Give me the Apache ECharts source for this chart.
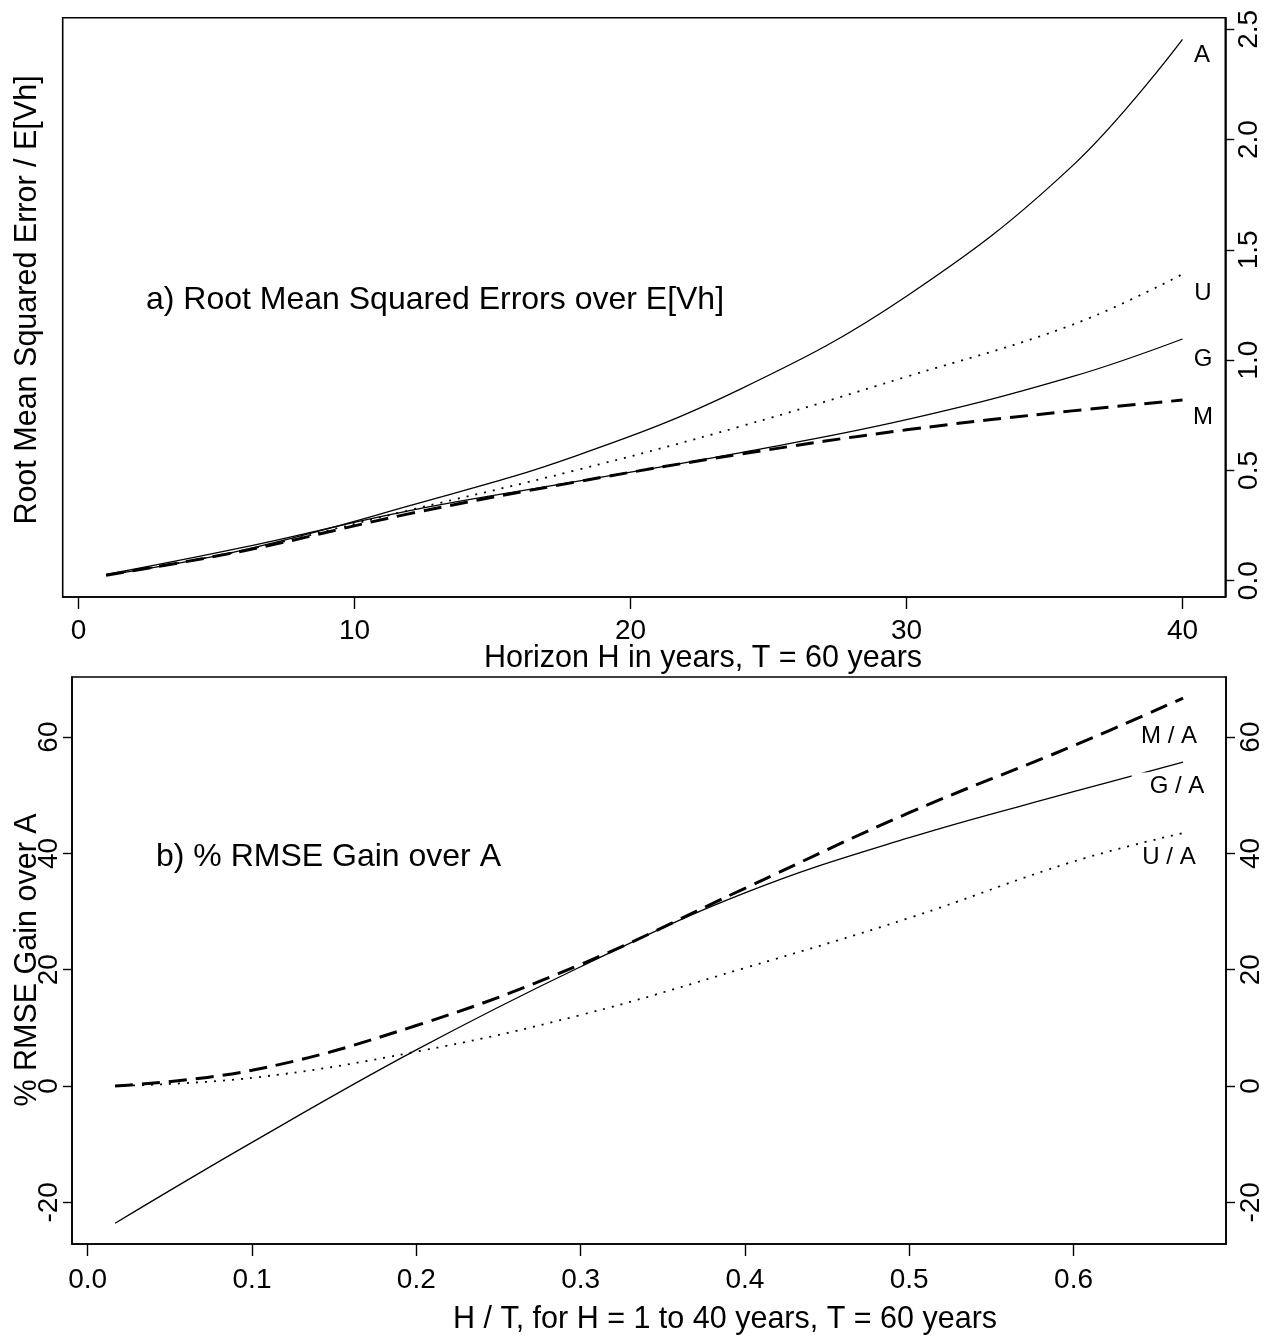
<!DOCTYPE html>
<html lang="en">
<head>
  <meta charset="UTF-8">
  <title>RMSE over E[Vh]</title>
  <script src="https://cdn.jsdelivr.net/npm/echarts@6/dist/echarts.min.js"></script>
</head>
<body style="margin:0;background:#fff">
<div id="main" style="width:1275px;height:1342px;"></div>
<script type="text/javascript">
    var T = 60;
    var horizon = [1, 6, 12, 18, 24, 30, 36, 40];

    // panel a) RMSE / E[Vh]
    var rmseA = [0.025, 0.14, 0.34, 0.565, 0.87, 1.29, 1.88, 2.455];
    var rmseU = [0.025, 0.138, 0.32, 0.50, 0.70, 0.925, 1.16, 1.39];
    var rmseG = [0.028, 0.152, 0.318, 0.449, 0.581, 0.73, 0.925, 1.096];
    var rmseM = [0.025, 0.136, 0.304, 0.447, 0.574, 0.684, 0.77, 0.819];

    // panel b) % RMSE gain over A
    var gainMA = [0, 2.7, 10.4, 20.9, 34.0, 47.0, 58.5, 66.7];
    var gainGA = [-23.6, -9.7, 6.2, 20.5, 33.2, 42.7, 50.6, 55.7];
    var gainUA = [0, 1.4, 5.9, 12.2, 20.3, 28.9, 38.6, 43.5];

    // tick labels
    var ticksTopX = [0, 10, 20, 30, 40];
    var ticksTopY = [0, 0.5, 1, 1.5, 2, 2.5];
    var ticksBotX = [0, 0.1, 0.2, 0.3, 0.4, 0.5, 0.6];
    var ticksBotY = [-20, 0, 20, 40, 60];

    var FONT = "'Liberation Sans', Arial, sans-serif";
    var myChart = echarts.init(document.getElementById('main'));

    function pairs(xs, ys) {
        return xs.map(function (x, i) { return [x, ys[i]]; });
    }
    var ratio = horizon.map(function (h) { return h / T; });

    function line(name, xi, yi, data, kind) {
        var ls = { color: '#000', width: 1.3, type: 'solid' };
        if (kind === 'dash') { ls.width = 3; ls.type = [18, 9]; }
        if (kind === 'dot') { ls.width = 1.8; ls.type = [2, 7]; }
        return {
            name: name, type: 'line', xAxisIndex: xi, yAxisIndex: yi,
            data: data, smooth: 0.4,
            showSymbol: false, symbol: 'none', silent: true,
            lineStyle: ls, z: 3
        };
    }

    function xAxisOf(grid, min, max, ticks, dec, tickLen, margin) {
        return {
            type: 'value', gridIndex: grid, min: min, max: max,
            splitLine: { show: false },
            axisLine: { show: true, onZero: false, lineStyle: { color: '#000', width: 1.6 } },
            axisTick: { show: true, length: tickLen, customValues: ticks, lineStyle: { color: '#000', width: 1.4 } },
            axisLabel: {
                customValues: ticks, margin: margin, color: '#000', fontSize: 28, fontFamily: FONT,
                formatter: function (v) { return dec ? v.toFixed(1) : String(v); }
            }
        };
    }

    function yAxisOf(grid, pos, min, max, ticks, dec, margin) {
        return {
            type: 'value', gridIndex: grid, position: pos, min: min, max: max,
            splitLine: { show: false },
            axisLine: { show: true, onZero: false, lineStyle: { color: '#000', width: 1.6 } },
            axisTick: { show: true, length: 9, customValues: ticks, lineStyle: { color: '#000', width: 1.4 } },
            axisLabel: {
                customValues: ticks, margin: margin, rotate: 90, color: '#000', fontSize: 28, fontFamily: FONT,
                align: 'center', verticalAlign: pos === 'right' ? 'top' : 'bottom',
                formatter: function (v) { return dec ? v.toFixed(1) : String(v); }
            }
        };
    }

    function txt(x, y, s, size, opts) {
        var st = { text: s, fill: '#000', font: size + 'px ' + FONT, align: 'center', verticalAlign: 'middle' };
        for (var k in (opts || {})) { st[k] = opts[k]; }
        return { type: 'text', x: x, y: y, z: 100, silent: true, style: st };
    }

    var option = {
        backgroundColor: '#fff',
        animation: false,
        grid: [
            { left: 62.7, right: 49.7, top: 17.7, height: 579.3, show: true, borderColor: '#000', borderWidth: 1.6, backgroundColor: 'transparent' },
            { left: 72, right: 49, top: 677, height: 567, show: true, borderColor: '#000', borderWidth: 1.6, backgroundColor: 'transparent' }
        ],
        xAxis: [
            xAxisOf(0, -0.572, 41.55, ticksTopX, false, 12, 20),
            xAxisOf(1, -0.00956, 0.6928, ticksBotX, true, 12, 22)
        ],
        yAxis: [
            yAxisOf(0, 'right', -0.074, 2.553, ticksTopY, true, 10),
            yAxisOf(1, 'left', -27.17, 70.33, ticksBotY, false, 9),
            yAxisOf(1, 'right', -27.17, 70.33, ticksBotY, false, 11)
        ],
        series: [
            line('A', 0, 0, pairs(horizon, rmseA), 'solid'),
            line('U', 0, 0, pairs(horizon, rmseU), 'dot'),
            line('G', 0, 0, pairs(horizon, rmseG), 'solid'),
            line('M', 0, 0, pairs(horizon, rmseM), 'dash'),
            line('M / A', 1, 1, pairs(ratio, gainMA), 'dash'),
            line('G / A', 1, 1, pairs(ratio, gainGA), 'solid'),
            line('U / A', 1, 1, pairs(ratio, gainUA), 'dot')
        ],
        graphic: [
            txt(28, 300, 'Root Mean Squared Error / E[Vh]', 30.5),
            txt(146, 300, 'a) Root Mean Squared Errors over E[Vh]', 32, { align: 'left' }),
            txt(1202, 55, 'A', 24),
            txt(1203, 293, 'U', 24),
            txt(1203, 359, 'G', 24),
            txt(1203, 417, 'M', 24),
            txt(703, 659, 'Horizon H in years, T = 60 years', 30.5),
            txt(28, 960, '% RMSE Gain over A', 30.5),
            txt(156, 857, 'b) % RMSE Gain over A', 32, { align: 'left' }),
            txt(1169, 736, 'M / A', 24),
            txt(1169, 786, 'G / A', 24, { backgroundColor: '#fff', padding: [3, 2, 0, 18] }),
            txt(1169, 857, 'U / A', 24),
            txt(725, 1320, 'H / T, for H = 1 to 40 years, T = 60 years', 30.5)
        ]
    };
    // the two y-axis titles read bottom to top
    option.graphic[0].rotation = Math.PI / 2;
    option.graphic[7].rotation = Math.PI / 2;

    myChart.setOption(option);
</script>
</body>
</html>
